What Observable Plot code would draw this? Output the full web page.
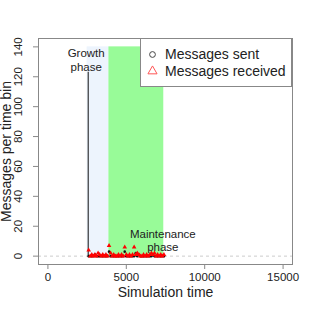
<!DOCTYPE html>
<html>
<head>
<meta charset="utf-8">
<script src="https://cdn.jsdelivr.net/npm/d3@7"></script>
<script src="https://cdn.jsdelivr.net/npm/@observablehq/plot@0.6"></script>
<style>
  html, body { margin: 0; padding: 0; background: #fff; }
  #wrap { position: relative; width: 312px; height: 312px; font-family: "Liberation Sans", Arial, Helvetica, sans-serif; }
  #legend { position: absolute; left: 140px; top: 38px; }
</style>
</head>
<body>
<div id="wrap"></div>
<script>
// ---- data ----
const binTimes = [2600, 2700, 2800, 2900, 3000, 3100, 3200, 3300, 3400, 3500,
                  3600, 3700, 3800, 3900, 4000, 4100, 4200, 4300, 4400, 4500,
                  4600, 4700, 4800, 4900, 5000, 5100, 5200, 5300, 5400, 5500,
                  5600, 5700, 5800, 5900, 6000, 6100, 6200, 6300, 6400, 6500,
                  6600, 6700, 6800, 6900, 7000, 7100, 7200, 7300, 7400];
const received = [4, 0, 1, 0, 1, 0, 2, 1, 0, 1,
                  0, 1, 0, 7, 2, 0, 1, 0, 0, 1,
                  0, 1, 0, 6, 1, 0, 1, 0, 1, 6,
                  1, 2, 1, 0, 0, 1, 0, 1, 0, 1,
                  2, 1, 2, 0, 1, 0, 1, 0, 1];
const sent =     [0, 0, 0, 0, 1, 0, 0, 0, 0, 0,
                  0, 0, 0, 3, 0, 0, 0, 0, 0, 0,
                  0, 0, 0, 3, 0, 0, 0, 0, 0, 0,
                  2, 0, 1, 0, 0, 0, 0, 0, 0, 0,
                  0, 1, 0, 0, 0, 0, 0, 0, 0];
const phaseNames  = ["Growth", "Maintenance"];
const phaseStart  = [2500, 3890];
const phaseEnd    = [3890, 7390];
const phaseTop    = [140, 140];
const phaseColors = ["#edf4fd", "#98fb98"];
const phaseLabels = ["Growth\nphase", "Maintenance\nphase"];
const labelX      = [2440, 7330];
const labelY      = [131.5, 10.5];
const growthLineX = [2570];
const growthLineTop = [123];
const xTicks = [0, 5000, 10000, 15000];
const yTicks = [0, 20, 40, 60, 80, 100, 120, 140];
const seriesNames = ["Messages sent", "Messages received"];

// ---- tables ----
const phases = phaseNames.map((n, i) => ({name: n, x1: phaseStart[i], x2: phaseEnd[i], y2: phaseTop[i], color: phaseColors[i]}));
const labels = phaseLabels.map((t, i) => ({text: t, x: labelX[i], y: labelY[i]}));
const lineData = growthLineX.map((x, i) => ({x, y2: growthLineTop[i]}));
const sentData = binTimes.map((t, i) => ({t, v: sent[i]}));
const recvData = binTimes.map((t, i) => ({t, v: received[i]}));

const font = "Liberation Sans, Arial, Helvetica, sans-serif";

const chart = Plot.plot({
  width: 312,
  height: 312,
  marginTop: 38,
  marginRight: 20,
  marginBottom: 48,
  marginLeft: 38,
  style: {fontFamily: font, background: "#fff", overflow: "visible"},
  x: {domain: [-600, 15600]},
  y: {domain: [-5.6, 145.6]},
  color: {type: "identity"},
  marks: [
    Plot.rect(phases, {x1: "x1", x2: "x2", y1: 0, y2: "y2", fill: "color"}),
    Plot.ruleY([0], {stroke: "#cccccc", strokeDasharray: "3,3", strokeWidth: 1}),
    Plot.ruleX(lineData, {x: "x", y1: 0, y2: "y2", stroke: "#111", strokeWidth: 1}),
    Plot.dot(sentData, {x: "t", y: "v", r: 1.3, fill: "#111", stroke: "none"}),
    Plot.dot(recvData, {x: "t", y: "v", r: 1.7, symbol: "triangle", fill: "#ff0000", stroke: "none"}),
    Plot.text(labels, {x: "x", y: "y", text: "text", fontSize: 11.5, lineHeight: 1.17, fill: "#222"}),
    Plot.axisX({ticks: xTicks, tickSize: 5, tickPadding: 3, fontSize: 11.5, color: "#222", stroke: "#888", tickFormat: d => String(d)}),
    Plot.axisY({ticks: yTicks, tickSize: 5, stroke: "#888", tickFormat: () => ""}),
    Plot.text(yTicks, {y: d => d, text: d => String(d), frameAnchor: "left", textAnchor: "middle", dx: -20, rotate: -90, fontSize: 11.5, fill: "#222"}),
    Plot.frame({stroke: "#888"}),
    Plot.text(["Simulation time"], {frameAnchor: "bottom", dy: 32, fontSize: 14, fill: "#222"}),
    Plot.text(["Messages per time bin"], {frameAnchor: "left", textAnchor: "middle", dx: -32, rotate: -90, fontSize: 14, fill: "#222"})
  ]
});

const wrap = document.getElementById("wrap");
wrap.appendChild(chart);

// ---- legend (HTML/SVG overlay) ----
const lg = d3.create("svg").attr("id", "legend").attr("width", 152).attr("height", 49)
  .style("font-family", font);
lg.append("rect").attr("x", 0.5).attr("y", 0.5).attr("width", 151).attr("height", 48)
  .attr("fill", "#fff").attr("stroke", "#888");
const symbolTypes = [d3.symbolCircle, d3.symbolTriangle];
const symbolColors = ["#444", "#ff5555"];
const symbolSizes = [26, 36];
seriesNames.forEach((name, i) => {
  const cy = 16.5 + i * 16.7;
  lg.append("path").attr("d", d3.symbol(symbolTypes[i], symbolSizes[i])())
    .attr("transform", `translate(12.5,${cy})`)
    .attr("fill", "none").attr("stroke", symbolColors[i]).attr("stroke-width", 1);
  lg.append("text").attr("x", 25).attr("y", cy).attr("dy", "0.35em")
    .attr("font-size", 14).attr("fill", "#222").text(name);
});
wrap.appendChild(lg.node());
</script>
</body>
</html>
